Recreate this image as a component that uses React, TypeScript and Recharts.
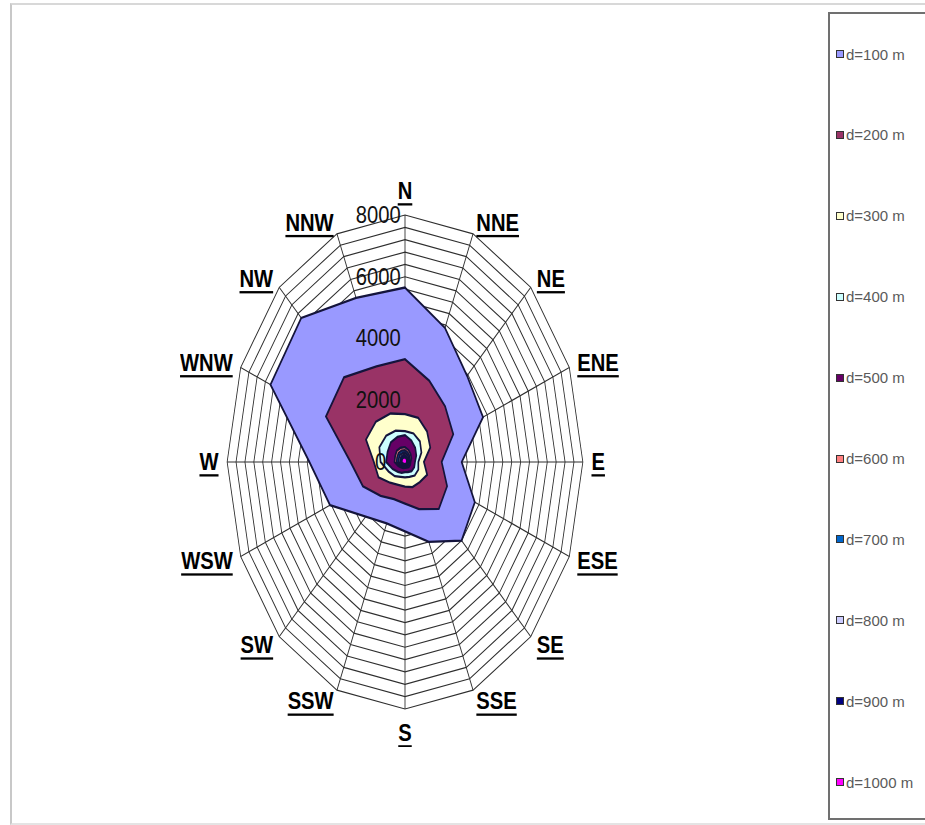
import {
  RadarChart,
  Radar,
  PolarGrid,
  PolarAngleAxis,
  PolarRadiusAxis,
} from "recharts";

// wind directions, clockwise from north
const DIRS = [
  "N", "NNE", "NE", "ENE", "E", "ESE", "SE", "SSE",
  "S", "SSW", "SW", "WSW", "W", "WNW", "NW", "NNW",
];

// values, one per direction
const D100 = [5650, 4700, 3950, 3800, 2550, 3400, 3600, 2800, 2250, 2150, 2500, 3650, 4300, 6550, 6600, 5750];
const D200 = [3330, 2850, 2550, 2350, 1650, 2050, 2150, 1650, 1350, 1300, 1550, 2050, 2450, 3850, 3880, 3350];
const D300 = [1550, 1550, 1400, 1230, 850, 1080, 930, 880, 800, 800, 950, 1290, 1400, 1900, 1850, 1700];
const D400 = [1000, 1000, 950, 800, 600, 650, 620, 520, 500, 520, 650, 800, 1100, 1250, 1200, 1100];
const D500 = [870, 750, 650, 550, 450, 450, 420, 350, 330, 380, 450, 600, 850, 850, 900, 880];
const D600 = [480, 420, 360, 310, 250, 250, 240, 200, 190, 215, 250, 330, 470, 480, 520, 500];
const D700 = [380, 330, 290, 245, 200, 200, 185, 155, 150, 170, 200, 265, 375, 385, 410, 400];
const D800 = [300, 260, 225, 190, 160, 155, 145, 125, 120, 135, 155, 210, 295, 300, 325, 310];
const D900 = [230, 200, 170, 145, 120, 120, 110, 95, 90, 100, 120, 160, 225, 230, 245, 240];
const D1000 = [150, 130, 110, 95, 80, 80, 75, 65, 60, 70, 80, 105, 150, 150, 160, 155];

// grid rings every 400, labels every 2000
const RING_TICKS = [
  0, 400, 800, 1200, 1600, 2000, 2400, 2800, 3200, 3600, 4000,
  4400, 4800, 5200, 5600, 6000, 6400, 6800, 7200, 7600, 8000,
];

const SERIES = [
  { key: "d100", name: "d=100 m", values: D100, color: "#9999ff" },
  { key: "d200", name: "d=200 m", values: D200, color: "#993366" },
  { key: "d300", name: "d=300 m", values: D300, color: "#ffffcc" },
  { key: "d400", name: "d=400 m", values: D400, color: "#ccffff" },
  { key: "d500", name: "d=500 m", values: D500, color: "#660066" },
  { key: "d600", name: "d=600 m", values: D600, color: "#ff8080" },
  { key: "d700", name: "d=700 m", values: D700, color: "#0066cc" },
  { key: "d800", name: "d=800 m", values: D800, color: "#ccccff" },
  { key: "d900", name: "d=900 m", values: D900, color: "#000080" },
  { key: "d1000", name: "d=1000 m", values: D1000, color: "#ff00ff" },
];

const data = DIRS.map((dir, i) => {
  const row: Record<string, string | number> = { dir };
  SERIES.forEach((s) => {
    row[s.key] = s.values[i];
  });
  return row;
});

// the reference is squeezed sideways, text is not
const SQUEEZE = 0.72;
const TEXT_X = 1.22;
const OUTER = 247;
const CW = 800;
const CH = 600;

const AngleTick = (props: any) => {
  const { payload, cx = CW / 2, cy = CH / 2 } = props;
  const rad = (payload.coordinate * Math.PI) / 180;
  const ux = Math.cos(rad);
  const uy = -Math.sin(rad);
  const vertical = Math.abs(ux) < 0.1;
  const off = vertical ? 24 : 12;
  const px = cx + ux * (OUTER + off);
  const py = cy + uy * (OUTER + off);
  const anchor = vertical ? "middle" : ux > 0 ? "start" : "end";
  return (
    <g transform={`translate(${px},${py}) scale(${TEXT_X},1)`}>
      <text
        x={0}
        y={0}
        textAnchor={anchor}
        dominantBaseline="central"
        fontFamily="Arial, 'Liberation Sans', sans-serif"
        fontWeight="bold"
        fontSize={23}
        fill="#000"
        textDecoration="underline"
      >
        {payload.value}
      </text>
    </g>
  );
};

const RadiusTick = (props: any) => {
  const { x, y, payload } = props;
  if (payload.value % 2000 !== 0) return <g />;
  const shift = payload.value === 0 ? 26 : 6;
  return (
    <g transform={`translate(${x - shift},${y}) scale(${TEXT_X},1)`}>
      <text
        x={0}
        y={0}
        textAnchor="end"
        dominantBaseline="central"
        fontFamily="Arial, 'Liberation Sans', sans-serif"
        fontSize={23}
        fill="#111"
      >
        {payload.value}
      </text>
    </g>
  );
};

export default function App() {
  return (
    <div
      style={{
        position: "absolute",
        left: 0,
        top: 0,
        width: 925,
        height: 825,
        overflow: "hidden",
        background: "#fff",
        fontFamily: "Arial, 'Liberation Sans', sans-serif",
      }}
    >
      {/* outer frame */}
      <div
        style={{
          position: "absolute",
          left: 10,
          top: 3,
          width: 940,
          height: 818,
          borderLeft: "2px solid #c8c8c8",
          borderTop: "2px solid #d8d8d8",
          borderBottom: "2px solid #e4e4e4",
        }}
      />

      {/* radar, squeezed horizontally like the reference */}
      <div
        style={{
          position: "absolute",
          left: 405 - (CW / 2) * SQUEEZE,
          top: 462 - CH / 2,
          width: CW,
          height: CH,
          transform: `scaleX(${SQUEEZE})`,
          transformOrigin: "0 0",
        }}
      >
        <RadarChart
          width={CW}
          height={CH}
          cx={CW / 2}
          cy={CH / 2}
          outerRadius={OUTER}
          data={data}
          margin={{ top: 0, right: 0, bottom: 0, left: 0 }}
        >
          <PolarGrid gridType="polygon" stroke="#2e2e2e" strokeWidth={1.2} />
          <PolarAngleAxis
            dataKey="dir"
            tick={<AngleTick />}
            tickLine={false}
            axisLine={false}
          />
          {SERIES.map((s) => (
            <Radar
              key={s.key}
              name={s.name}
              dataKey={s.key}
              fill={s.color}
              fillOpacity={1}
              stroke="#14143c"
              strokeWidth={2.3}
              dot={false}
              isAnimationActive={false}
            />
          ))}
          <PolarRadiusAxis
            angle={90}
            domain={[0, 8000]}
            ticks={RING_TICKS}
            tick={<RadiusTick />}
            axisLine={false}
            tickLine={false}
          />
        </RadarChart>
      </div>

      {/* legend */}
      <div
        style={{
          position: "absolute",
          left: 828,
          top: 12,
          width: 120,
          height: 808,
          border: "2px solid #707070",
          boxSizing: "border-box",
        }}
      >
        {SERIES.map((s, i) => (
          <div
            key={s.key}
            style={{
              position: "absolute",
              left: 6,
              top: 40 + i * 80.9 - 9,
              height: 18,
              display: "flex",
              alignItems: "center",
              gap: 2,
              fontSize: 15,
              color: "#5a5a5a",
              whiteSpace: "nowrap",
            }}
          >
            <span
              style={{
                display: "inline-block",
                width: 6,
                height: 6,
                border: "1.5px solid #333",
                backgroundColor: s.color,
              }}
            />
            {s.name}
          </div>
        ))}
      </div>
    </div>
  );
}
